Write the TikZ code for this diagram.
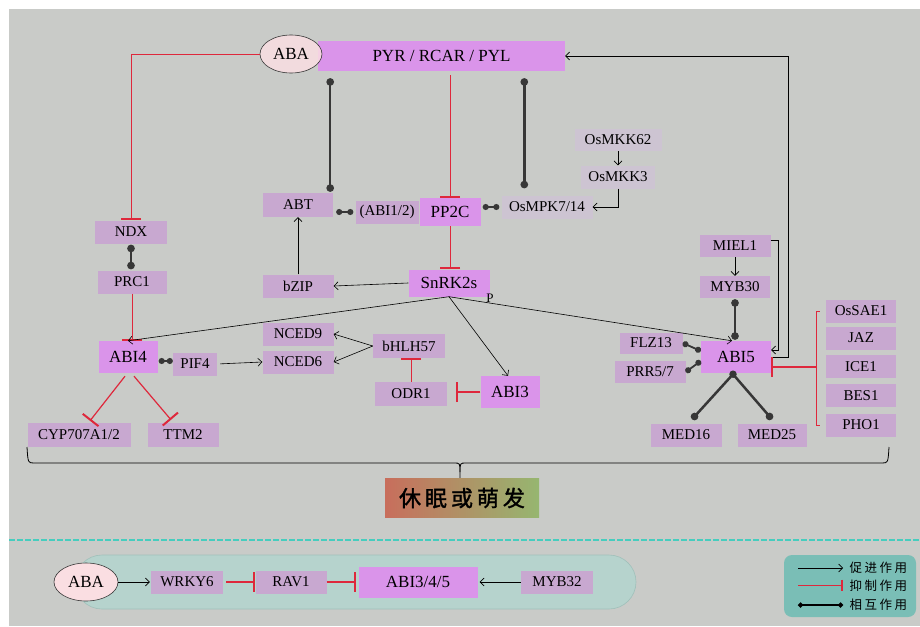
\documentclass[tikz,border=0pt]{standalone}
\usepackage{fontspec}
\usepackage{xcolor}
\usepackage{tikz}
\setmainfont{Liberation Serif}
\newfontfamily\cjkleg[LetterSpace=20]{Noto Sans CJK SC}
\newfontfamily\cjktitle[LetterSpace=18,FakeBold=1.5]{Noto Sans CJK SC}
\usetikzlibrary{arrows.meta,shapes.geometric}

\definecolor{bggray}{RGB}{201,203,200}
\definecolor{magbox}{RGB}{218,148,234}
\definecolor{purbox}{RGB}{200,168,208}
\definecolor{grybox}{RGB}{205,196,210}
\definecolor{abapink}{RGB}{250,222,226}
\definecolor{inhred}{RGB}{222,40,60}
\definecolor{dkline}{RGB}{55,55,55}
\definecolor{capsule}{RGB}{182,211,205}
\definecolor{capline}{RGB}{160,192,186}
\definecolor{legteal}{RGB}{122,190,182}
\definecolor{dashcyan}{RGB}{70,205,190}

\tikzset{
  box/.style={rectangle, inner sep=0pt, minimum height=23pt, font=\fontsize{15}{15}\selectfont},
  pbox/.style={box, fill=purbox},
  gbox/.style={box, fill=grybox},
  mbox/.style={box, fill=magbox, minimum height=32pt, font=\fontsize{17}{17}\selectfont},
  aba/.style={ellipse, draw=dkline, line width=0.6pt, fill=abapink, inner sep=0pt, font=\fontsize{17}{17}\selectfont},
  promote/.style={-{Straight Barb[length=4pt,width=8pt]}, black, line width=0.6pt},
  inhibit/.style={-{Bar[width=20pt,line width=2pt]}, inhred, line width=0.8pt},
  interact/.style={{Circle[length=7.5pt,width=7.5pt]}-{Circle[length=7.5pt,width=7.5pt]}, dkline, line width=2.5pt},
  interacts/.style={{Circle[length=6pt,width=6pt]}-{Circle[length=6pt,width=6pt]}, dkline, line width=1.8pt},
}

\begin{document}
\begin{tikzpicture}[x=1pt,y=-1pt]
    \useasboundingbox (0,0) rectangle (920,626);
    \fill[bggray] (9,9) rectangle (920,626);

    % upper network
    \node[mbox, minimum width=247, minimum height=30] (PYR) at (441.5,56) {PYR / RCAR / PYL};
    \node[aba, minimum width=62, minimum height=38, fill opacity=0.85, text opacity=1] (ABA) at (291,54) {ABA};
    \node[pbox, minimum width=72] (NDX) at (131,232) {NDX};
    \node[pbox, minimum width=69] (PRC1) at (132,282) {PRC1};
    \node[pbox, minimum width=70, minimum height=24] (ABT) at (298,205) {ABT};
    \node[pbox, minimum width=63] (ABI12) at (387,212) {(ABI1/2)};
    \node[mbox, minimum width=61, minimum height=28] (PP2C) at (450,212) {PP2C};
    \node[gbox, minimum width=91] (OsMPK) at (547,207) {OsMPK7/14};
    \node[gbox, minimum width=87, minimum height=22] (OsMKK62) at (618,140) {OsMKK62};
    \node[gbox, minimum width=74] (OsMKK3) at (618,177) {OsMKK3};
    \node[mbox, minimum width=81, minimum height=27] (SnRK) at (449,283) {SnRK2s};
    \node[pbox, minimum width=71] (bZIP) at (298,286) {bZIP};
    \node[font=\fontsize{13}{13}\selectfont] (Plabel) at (490,298) {P};
    \node[pbox, minimum width=71, minimum height=22] (MIEL1) at (735,246) {MIEL1};
    \node[pbox, minimum width=70, minimum height=22] (MYB30) at (735,287) {MYB30};
    \node[mbox, minimum width=70] (ABI5) at (736,357) {ABI5};
    \node[pbox, minimum width=63, minimum height=21] (FLZ13) at (651,343) {FLZ13};
    \node[pbox, minimum width=71, minimum height=22] (PRR) at (650,372) {PRR5/7};
    \node[pbox, minimum width=71] (MED16) at (686,435) {MED16};
    \node[pbox, minimum width=69] (MED25) at (772,435) {MED25};
    \node[pbox, minimum width=70] (OsSAE1) at (861,311) {OsSAE1};
    \node[pbox, minimum width=70] (JAZ) at (861,338) {JAZ};
    \node[pbox, minimum width=70] (ICE1) at (861,366.5) {ICE1};
    \node[pbox, minimum width=70] (BES1) at (861,395.5) {BES1};
    \node[pbox, minimum width=70] (PHO1) at (861,425) {PHO1};
    \node[mbox, minimum width=59] (ABI4) at (128,357) {ABI4};
    \node[pbox, minimum width=44] (PIF4) at (195,364) {PIF4};
    \node[pbox, minimum width=71] (NCED9) at (298,334) {NCED9};
    \node[pbox, minimum width=71] (NCED6) at (298,362) {NCED6};
    \node[pbox, minimum width=72, minimum height=24] (bHLH) at (409,346) {bHLH57};
    \node[pbox, minimum width=72, minimum height=24] (ODR1) at (411,394) {ODR1};
    \node[mbox, minimum width=59] (ABI3) at (510,392) {ABI3};
    \node[pbox, minimum width=103, minimum height=24] (CYP) at (79,435) {CYP707A1/2};
    \node[pbox, minimum width=71, minimum height=24] (TTM2) at (183,435) {TTM2};

    \draw[inhibit] (ABA.west) -| (NDX.north);
    \draw[interact, shorten <=1pt, shorten >=1pt] (NDX.south) -- (NDX.south |- PRC1.north);
    \draw[inhibit] (PRC1.south) -- (PRC1.south |- ABI4.north);
    \draw[inhibit, line width=1.2pt] ([xshift=-3pt,yshift=-3pt]ABI4.south) -- ([xshift=11pt,yshift=2pt]CYP.north);
    \draw[inhibit, line width=1.2pt] ([xshift=6pt,yshift=-3pt]ABI4.south) -- ([xshift=-12pt,yshift=3pt]TTM2.north);
    \draw[interacts, shorten <=1pt] ([yshift=-4pt]ABI4.east) -- ([yshift=3pt]PIF4.west);
    \draw[promote, shorten <=3pt] (PIF4.east) -- (NCED6.west);
    \draw[promote] (bHLH.west) -- (NCED9.east);
    \draw[promote] (bHLH.west) -- (NCED6.east);
    \draw[inhibit] (ODR1.north) -- (ODR1.north |- bHLH.south);
    \draw[inhibit, line width=2pt] (ABI3.west) -- ([xshift=9pt]ODR1.east |- ABI3.west);

    \draw[inhibit, shorten <=4pt] (PP2C.north |- PYR.south) -- (PP2C.north);
    \draw[inhibit] (PP2C.south) -- (PP2C.south |- SnRK.north);
    \draw[interact, shorten <=7pt, shorten >=1pt] ([xshift=-3pt]ABT.north east |- PYR.south) -- ([xshift=-3pt]ABT.north east);
    \draw[interact, shorten <=7pt, shorten >=7pt] ([xshift=23pt]OsMPK.north west |- PYR.south) -- ([xshift=23pt]OsMPK.north west);
    \draw[interacts, shorten <=3pt, shorten >=2pt] (ABT.east |- ABI12.west) -- (ABI12.west);
    \draw[interacts, shorten <=2pt, shorten >=2pt] (OsMPK.west -| PP2C.east) -- (OsMPK.west);
    \draw[promote] (bZIP.north) -- (ABT.south);
    \draw[promote] (SnRK.west) -- (bZIP.east);
    \draw[promote] (OsMKK62.south) -- (OsMKK3.north);
    \draw[promote] (OsMKK3.south) |- (OsMPK.east);
    \draw[promote] (SnRK.south) -- (ABI4.north);
    \draw[promote] (SnRK.south) -- ([xshift=-4pt]ABI5.north);
    \draw[promote] (SnRK.south) -- ([xshift=-2pt]ABI3.north);

    \draw[promote] ([yshift=6pt]MIEL1.east) -- ++(8,0) |- ([yshift=7pt]ABI5.east);
    \draw[promote] (ABI5.east) -- ++(17,0) |- (PYR.east);
    \draw[promote] (MIEL1.south) -- (MYB30.north);
    \draw[interact, shorten <=1pt, shorten >=1pt] (MYB30.south) -- (MYB30.south |- ABI5.north);
    \draw[interacts] (FLZ13.east) -- ([yshift=6pt]ABI5.west);
    \draw[interacts] (PRR.east) -- ([yshift=-4pt]ABI5.west);
    \coordinate (med) at ([xshift=-3pt,yshift=-1pt]ABI5.south);
    \fill[dkline] (med) circle (3.75pt);
    \draw[interact, arrows=-{Circle[length=7.5pt,width=7.5pt]}] (med) -- ([xshift=6pt,yshift=4pt]MED16.north);
    \draw[interact, arrows=-{Circle[length=7.5pt,width=7.5pt]}] (med) -- ([yshift=4pt]MED25.north);

    % bracket of the ABI5 repressors
    \coordinate (brk) at (817,366.5);
    \draw[inhred, line width=0.8pt] ([xshift=-6pt]OsSAE1.west) -- ++(-3,0) |- ([xshift=-6pt]PHO1.west);
    \draw[inhibit, line width=2pt] (brk) -- (brk -| ABI5.east);

    % outcome
    \coordinate (brl) at (27,447);
    \coordinate (brr) at (889,447);
    \draw[black, line width=0.8pt] (brl) .. controls (28,463) .. (34,463) -- (454,463)
        .. controls (460,463) .. (460,472) -- (460,480);
    \draw[black, line width=0.8pt] (brr) .. controls (888,463) .. (882,463) -- (466,463)
        .. controls (460,463) .. (460,472);
    \node[rectangle, minimum width=154, minimum height=39, inner sep=0pt,
          left color={rgb,255:red,200;green,110;blue,92}, middle color={rgb,255:red,214;green,214;blue,122},
          right color={rgb,255:red,150;green,182;blue,112},
          font=\cjktitle\fontsize{22}{22}\selectfont] (sleep) at (462,498) {休眠或萌发};

    % lower panel
    \draw[dashcyan, line width=1.2pt, dash pattern=on 6pt off 2pt] (9,540) -- (920,540);
    \draw[capline, fill=capsule, rounded corners=27pt, line width=0.6pt] (75,555) rectangle (636,609);
    \node[aba, minimum width=64, minimum height=38] (ABAb) at (86,582) {ABA};
    \node[pbox, minimum width=72] (WRKY6) at (187,582) {WRKY6};
    \node[pbox, minimum width=71] (RAV1) at (291,582) {RAV1};
    \node[mbox, minimum width=119, minimum height=31] (ABI345) at (418,582) {ABI3/4/5};
    \node[pbox, minimum width=72] (MYB32) at (557,582) {MYB32};
    \draw[promote] (ABAb.east) -- ([xshift=-1pt]WRKY6.west);
    \draw[inhibit, line width=1.2pt, shorten <=3pt] (WRKY6.east) -- (RAV1.west);
    \draw[inhibit, line width=1.2pt] (RAV1.east) -- ([xshift=-2pt]ABI345.west);
    \draw[promote] (MYB32.west) -- ([xshift=2pt]ABI345.east);

    % legend
    \fill[legteal, rounded corners=8pt] (784,555) rectangle (916,617);
    \coordinate (l1a) at (798,568); \coordinate (l1b) at (843,568);
    \coordinate (l2a) at (798,585); \coordinate (l2b) at (843,585);
    \coordinate (l3a) at (798,605); \coordinate (l3b) at (843,605);
    \draw[promote] (l1a) -- (l1b);
    \draw[-{Bar[width=11pt,line width=1.6pt]}, inhred, line width=0.8pt] (l2a) -- (l2b);
    \draw[{Circle[length=5pt,width=5pt]}-{Circle[length=5pt,width=5pt]}, black, line width=1.3pt] (l3a) -- (l3b);
    \node[anchor=west, font=\cjkleg\fontsize{12.5}{12.5}\selectfont] (leg1) at (846,568) {促进作用};
    \node[anchor=west, font=\cjkleg\fontsize{12.5}{12.5}\selectfont] (leg2) at (846,586) {抑制作用};
    \node[anchor=west, font=\cjkleg\fontsize{12.5}{12.5}\selectfont] (leg3) at (846,605) {相互作用};
\end{tikzpicture}
\end{document}
